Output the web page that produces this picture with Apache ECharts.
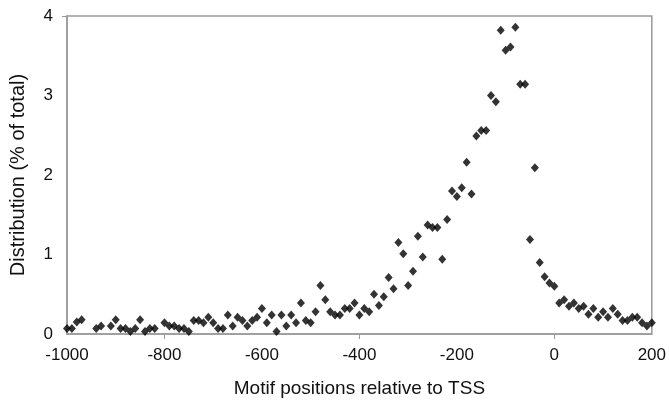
<!DOCTYPE html>
<html>
<head>
<meta charset="utf-8">
<script src="https://cdn.jsdelivr.net/npm/echarts@6/dist/echarts.min.js"></script>
<style>
  html, body { margin: 0; padding: 0; background: #fff; }
  #chart { width: 669px; height: 406px; }
</style>
</head>
<body>
<div id="chart"></div>
<script>
// motif positions (bp relative to TSS)
const positions = [
  -1000, -990, -980, -970, -940, -930, -910, -900, -890, -880,
  -870, -860, -850, -840, -830, -820, -800, -790, -780, -770,
  -760, -750, -740, -730, -720, -710, -700, -690, -680, -670,
  -660, -650, -640, -630, -620, -610, -600, -590, -580, -570,
  -560, -550, -540, -530, -520, -510, -500, -490, -480, -470,
  -460, -450, -440, -430, -420, -410, -400, -390, -380, -370,
  -360, -350, -340, -330, -320, -310, -300, -290, -280, -270,
  -260, -250, -240, -230, -220, -210, -200, -190, -180, -170,
  -160, -150, -140, -130, -120, -110, -100, -90, -80, -70,
  -60, -50, -40, -30, -20, -10, 0, 10, 20, 30,
  40, 50, 60, 70, 80, 90, 100, 110, 120, 130,
  140, 150, 160, 170, 180, 190, 200
]
// distribution (% of total)
const distribution = [
  0.07, 0.07, 0.15, 0.18, 0.07, 0.10, 0.10, 0.18, 0.07, 0.07,
  0.03, 0.07, 0.18, 0.03, 0.07, 0.07, 0.14, 0.10, 0.10, 0.07,
  0.07, 0.03, 0.17, 0.17, 0.14, 0.21, 0.14, 0.07, 0.07, 0.24,
  0.10, 0.21, 0.17, 0.10, 0.17, 0.21, 0.32, 0.14, 0.24, 0.03,
  0.24, 0.10, 0.24, 0.14, 0.39, 0.17, 0.14, 0.28, 0.61, 0.43,
  0.28, 0.24, 0.24, 0.32, 0.32, 0.39, 0.24, 0.32, 0.28, 0.50,
  0.36, 0.47, 0.71, 0.57, 1.15, 1.01, 0.61, 0.79, 1.23, 0.97,
  1.37, 1.34, 1.34, 0.94, 1.44, 1.80, 1.73, 1.84, 2.16, 1.76,
  2.49, 2.56, 2.56, 3.00, 2.92, 3.82, 3.57, 3.61, 3.86, 3.14,
  3.14, 1.19, 2.09, 0.90, 0.72, 0.64, 0.60, 0.39, 0.43, 0.35,
  0.39, 0.32, 0.35, 0.25, 0.32, 0.21, 0.28, 0.21, 0.32, 0.25,
  0.17, 0.17, 0.21, 0.21, 0.14, 0.10, 0.14
]
const xTickLabels = [-1000, -800, -600, -400, -200, 0, 200]
const yTickLabels = [0, 1, 2, 3, 4]

const chart = echarts.init(document.getElementById('chart'))
const axisGrey = '#9a9a9a'
const textColor = '#111'
const font = 'Liberation Sans, Arial, sans-serif'

const option = {
  animation: false,
  backgroundColor: '#fff',
  grid: {
    left: 65,
    right: 14,
    top: 16,
    bottom: 72,
    show: true,
    borderColor: axisGrey,
    borderWidth: 1.5,
    containLabel: false
  },
  xAxis: {
    type: 'value',
    min: -1000,
    max: 200,
    interval: 200,
    name: 'Motif positions relative to TSS',
    nameLocation: 'middle',
    nameGap: 45,
    nameTextStyle: { color: textColor, fontSize: 19, fontFamily: font },
    axisLine: { onZero: false, lineStyle: { color: axisGrey, width: 1.5 } },
    axisTick: { show: true, length: 5, customValues: [-800, -400, 0], lineStyle: { color: axisGrey } },
    axisLabel: {
      color: textColor, fontSize: 17, fontFamily: font, margin: 13,
      customValues: xTickLabels,
      formatter: v => String(v)
    },
    splitLine: { show: false }
  },
  yAxis: {
    type: 'value',
    min: 0,
    max: 4,
    interval: 1,
    name: 'Distribution (% of total)',
    nameLocation: 'middle',
    nameGap: 39,
    nameTextStyle: { color: textColor, fontSize: 20, fontFamily: font },
    axisLine: { show: true, onZero: false, lineStyle: { color: axisGrey, width: 1.5 } },
    axisTick: { show: true, length: 5, customValues: [4], lineStyle: { color: axisGrey } },
    axisLabel: {
      color: textColor, fontSize: 17, fontFamily: font, margin: 14,
      customValues: yTickLabels
    },
    splitLine: { show: false }
  },
  series: [
    {
      type: 'scatter',
      symbol: 'diamond',
      symbolSize: [8, 9],
      itemStyle: { color: '#000' },
      data: positions.map((p, i) => [p, distribution[i]])
    }
  ]
}
chart.setOption(option)
</script>
</body>
</html>
